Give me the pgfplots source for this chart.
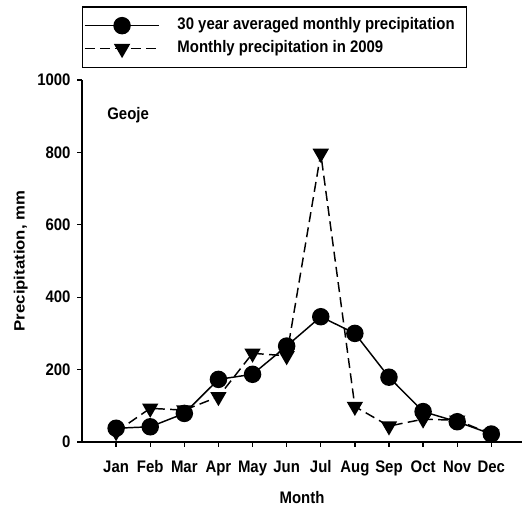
\documentclass[border=0pt]{standalone}
\usepackage{graphicx}
\usepackage{pgfplots}
\usepackage{pgfplotstable}
\pgfplotsset{compat=1.18}
\usepackage{fontspec}
\setmainfont{Liberation Sans}

% Text in this figure is set slightly tall
\newcommand{\tall}[1]{\scalebox{1}[1.12]{#1}}

% Monthly precipitation at Geoje (mm); months indexed 0 = Jan ... 11 = Dec
\pgfplotstableread{
m   avg   y2009
0   38    28
1   42    93
2   79    88
3   173   125
4   187   245
5   265   238
6   346   797
7   300   98
8   179   44
9   84    63
10  56    60
11  22    22
}\precip

\begin{document}
\begin{tikzpicture}[font=\bfseries\fontsize{11.2}{13}\selectfont]
\begin{axis}[
  at={(0pt,0pt)}, anchor=south west,
  scale only axis, width=330pt, height=271.5pt,
  xmin=-1, xmax=11.9, ymin=0, ymax=1000,
  axis x line=bottom, axis y line=left,
  axis line style={-, line width=1.1pt},
  every tick/.style={black, line width=1pt},
  tick align=outside, major tick length=3.5pt,
  xtick={0,...,11},
  xticklabels={\tall{Jan},\tall{Feb},\tall{Mar},\tall{Apr},\tall{May},\tall{Jun},
               \tall{Jul},\tall{Aug},\tall{Sep},\tall{Oct},\tall{Nov},\tall{Dec}},
  ytick={0,200,400,600,800,1000},
  yticklabel={\tall{\pgfmathprintnumber{\tick}}},
  /pgf/number format/assume math mode=true,
  /pgf/number format/1000 sep={},
  tick label style={font=\bfseries\fontsize{11.2}{13}\selectfont},
  xticklabel style={anchor=base, yshift=-19.75pt},
  yticklabel style={xshift=-1.6pt},
  xlabel={\tall{Month}}, ylabel={\scalebox{1.12}[1]{Precipitation, mm}},
  every axis x label/.style={at={(axis description cs:0.5,0)}, yshift=-42pt, anchor=center},
  every axis y label/.style={at={(axis description cs:0,0.5)}, xshift=-46pt, rotate=90, anchor=center},
  legend style={at={(axis description cs:0,1)}, yshift=9pt, anchor=south west,
    draw=black, line width=1pt, inner xsep=1pt, inner ysep=7pt,
    row sep=3.25pt, font=\bfseries\fontsize{11.2}{13}\selectfont,
    nodes={inner sep=1pt, text height=9pt, text depth=3pt}},
  legend cell align=left,
  legend image code/.code={%
    \draw[mark repeat=2, mark phase=2, #1]
      plot coordinates {(0pt,0pt) (28pt,0pt) (56pt,0pt)};},
  clip=false,
]
\addplot[black, line width=1.1pt, mark=*, mark size=6pt, mark options={solid}]
  table[x=m, y=avg] {\precip};
\addlegendentry{\makebox[227pt][l]{\hspace{12pt}\tall{30 year averaged monthly precipitation}}}
\addplot[black, line width=1.1pt, dash pattern=on 7.5pt off 4pt,
  mark=triangle*, mark size=6pt, mark options={solid, rotate=180}]
  table[x=m, y=y2009] {\precip};
\addlegendentry{\makebox[227pt][l]{\hspace{12pt}\tall{Monthly precipitation in 2009}}}
\node[anchor=west, inner sep=0pt] at (axis description cs:0.057,0.903) {\tall{Geoje}};
\end{axis}
\pgfresetboundingbox
\path (-61.5pt,-50.25pt) rectangle (331.5pt,331.5pt);
\end{tikzpicture}
\end{document}
